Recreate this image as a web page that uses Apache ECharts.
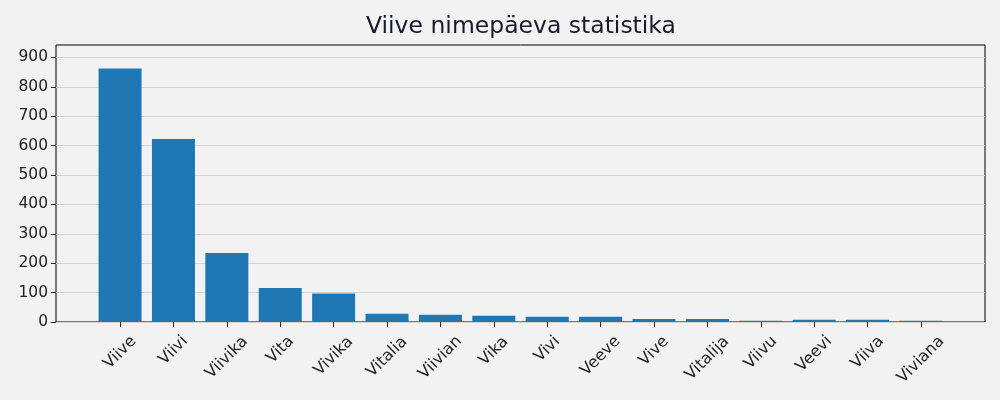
<!DOCTYPE html>
<html>
<head>
<meta charset="utf-8">
<script src="https://cdn.jsdelivr.net/npm/echarts@6/dist/echarts.min.js"></script>
<style>
  html, body { margin: 0; padding: 0; background: #f2f2f2; }
  #chart { width: 1000px; height: 400px; }
</style>
</head>
<body>
<div id="chart"></div>
<script>
var names = ['Viive', 'Viivi', 'Viivika', 'Vita', 'Vivika', 'Vitalia', 'Viivian', 'Vika',
    'Vivi', 'Veeve', 'Vive', 'Vitalija', 'Viivu', 'Veevi', 'Viiva', 'Viviana'];
var counts = [862, 622, 235, 116, 97, 28, 25, 21, 18, 18, 10, 10, 4, 8, 8, 4];
var yTicks = [0, 100, 200, 300, 400, 500, 600, 700, 800, 900];

var positions = names.map(function (n, i) { return i; });

// rotated labels are centred under the tick (like matplotlib), so each one
// gets pushed down by half of its own rotated height via padding
var ctx = document.createElement('canvas').getContext('2d');
ctx.font = '16px "DejaVu Sans"';
var rich = {};
names.forEach(function (n, i) {
    var w = ctx.measureText(n).width;
    var d = 9 + 0.354 * w;
    var p = Math.round(Math.SQRT2 * d);
    rich['l' + i] = {
        fontFamily: 'DejaVu Sans',
        fontSize: 16,
        color: '#222',
        padding: [p, p, 0, 0]
    };
});

var chart = echarts.init(document.getElementById('chart'));

var option = {
    backgroundColor: '#f2f2f2',
    animation: false,
    title: {
        text: 'Viive nimepäeva statistika',
        left: 361,
        top: 10,
        textStyle: {
            fontFamily: 'DejaVu Sans',
            fontSize: 23.5,
            fontWeight: 'normal',
            color: '#1a1a2e'
        }
    },
    grid: {
        left: 56,
        right: 15,
        top: 45,
        bottom: 78,
        show: true,
        borderColor: '#000',
        borderWidth: 1,
        backgroundColor: '#f2f2f2'
    },
    xAxis: {
        type: 'value',
        min: -1.2,
        max: positions.length - 1 + 1.2,
        axisLine: { show: false, onZero: false },
        splitLine: { show: false },
        minorTick: { show: false },
        axisTick: {
            show: true,
            inside: false,
            customValues: positions,
            length: 5,
            lineStyle: { color: '#222' }
        },
        axisLabel: {
            customValues: positions,
            rotate: 45,
            margin: 8,
            align: 'center',
            verticalAlign: 'middle',
            formatter: function (v) {
                var i = Math.round(v);
                return '{l' + i + '|' + names[i] + '}';
            },
            rich: rich
        }
    },
    yAxis: {
        type: 'value',
        min: 0,
        max: 942,
        axisLine: { show: false, onZero: false },
        minorTick: { show: false },
        axisTick: {
            show: true,
            inside: false,
            customValues: yTicks,
            length: 5,
            lineStyle: { color: '#222' }
        },
        axisLabel: {
            customValues: yTicks,
            margin: 8,
            fontFamily: 'DejaVu Sans',
            fontSize: 15.5,
            color: '#222'
        },
        splitLine: {
            show: true,
            lineStyle: { color: '#d4d4d4', width: 1 }
        }
    },
    series: [
        {
            type: 'bar',
            barWidth: 43,
            itemStyle: { color: '#1f77b4' },
            data: positions.map(function (p, i) { return [p, counts[i]]; })
        }
    ]
};

chart.setOption(option);
</script>
</body>
</html>
